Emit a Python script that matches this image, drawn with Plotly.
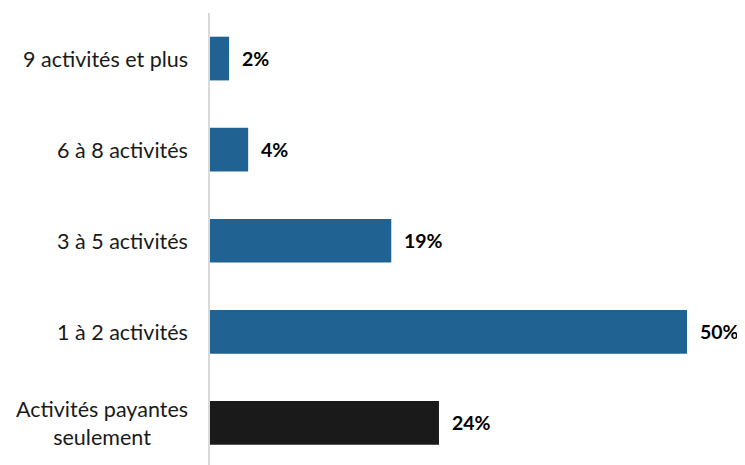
import plotly.graph_objects as go

categories = ["Activités payantes<br>seulement", "1 à 2 activités", "3 à 5 activités",
              "6 à 8 activités", "9 activités et plus"]
values = [24, 50, 19, 4, 2]
labels = ["24%", "50%", "19%", "4%", "2%"]
colors = ["#1a1a1a", "#206392", "#206392", "#206392", "#206392"]

FONT = "Lato"

fig = go.Figure()
fig.add_trace(go.Bar(
    y=categories, x=values, orientation="h",
    marker=dict(color=colors, line=dict(width=0)),
    hoverinfo="skip",
))

for c, v, t in zip(categories, values, labels):
    fig.add_annotation(x=v, y=c, xref="x", yref="y", text="<b>" + t + "</b>",
                       showarrow=False, xanchor="left", xshift=11,
                       font=dict(family=FONT, size=19.5, color="#000000"))
    fig.add_annotation(x=0, y=c, xref="paper", yref="y", text=c,
                       showarrow=False, xanchor="right", xshift=-20, align="center",
                       font=dict(family=FONT, size=21.5, color="#1a1a1a"))

fig.update_layout(
    width=737, height=457,
    margin=dict(l=202, r=58, t=5, b=0),
    paper_bgcolor="white", plot_bgcolor="white",
    bargap=0.52, showlegend=False,
    font=dict(family=FONT, size=21, color="#1a1a1a"),
    xaxis=dict(range=[0, 50], showgrid=False, zeroline=False, showticklabels=False,
               showline=False, fixedrange=True),
    yaxis=dict(type="category", categoryorder="array", categoryarray=categories,
               range=[-0.4615, 4.5], showgrid=False, zeroline=False,
               showticklabels=False, showline=True, linecolor="#d9d9d9", linewidth=2,
               ticks=""),
)

fig.write_html("out.html")
